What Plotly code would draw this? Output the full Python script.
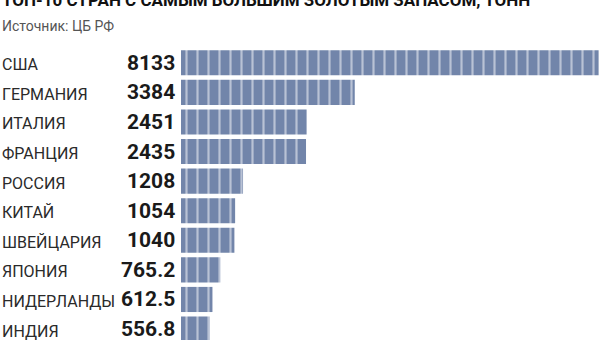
import plotly.graph_objects as go

countries = ["США", "ГЕРМАНИЯ", "ИТАЛИЯ", "ФРАНЦИЯ", "РОССИЯ", "КИТАЙ",
             "ШВЕЙЦАРИЯ", "ЯПОНИЯ", "НИДЕРЛАНДЫ", "ИНДИЯ"]
values = [8133, 3384, 2451, 2435, 1208, 1054, 1040, 765.2, 612.5, 556.8]
value_labels = ["8133", "3384", "2451", "2435", "1208", "1054", "1040", "765.2", "612.5", "556.8"]
title = "ТОП-10 СТРАН С САМЫМ БОЛЬШИМ ЗОЛОТЫМ ЗАПАСОМ, ТОНН"
subtitle = "Источник: ЦБ РФ"

BAR = "#7285aa"
FONT = "Roboto"

fig = go.Figure()
fig.add_trace(go.Bar(
    x=values, y=countries, orientation="h",
    marker=dict(color=BAR, line=dict(width=0),
                pattern=dict(shape="|", fgcolor="white", bgcolor=BAR,
                             size=11, solidity=0.2, fillmode="overlay")),
    hoverinfo="skip",
))

ann = []
for c, lab in zip(countries, value_labels):
    ann.append(dict(x=0, xref="paper", y=c, yref="y", text=c, showarrow=False,
                    xanchor="left", yanchor="middle", yshift=-2,
                    font=dict(family=FONT, size=16, color="#2a2a2a")))
    ann.append(dict(x=177/600, xref="paper", y=c, yref="y", text=lab, showarrow=False,
                    xanchor="right", yanchor="middle", xshift=0, yshift=0,
                    font=dict(family=FONT, size=21, color="#1a1a1a", weight="bold")))

ann.append(dict(x=0, xref="paper", y=1.165, yref="paper", text=title, showarrow=False,
                xanchor="left", yanchor="middle",
                font=dict(family=FONT, size=17, color="#111111", weight="bold")))
ann.append(dict(x=0, xref="paper", y=1.076, yref="paper", text=subtitle, showarrow=False,
                xanchor="left", yanchor="middle",
                font=dict(family=FONT, size=14, color="#555555")))

fig.update_layout(
    width=600, height=340,
    margin=dict(l=0, r=0, t=48, b=0),
    paper_bgcolor="white", plot_bgcolor="white",
    showlegend=False, bargap=0.15,
    xaxis=dict(domain=[181/600, 1], range=[0, 8160], visible=False, fixedrange=True),
    yaxis=dict(categoryorder="array", categoryarray=countries,
               range=[9.37, -0.5], visible=False, fixedrange=True),
    annotations=ann,
)

fig.write_html("out.html")
